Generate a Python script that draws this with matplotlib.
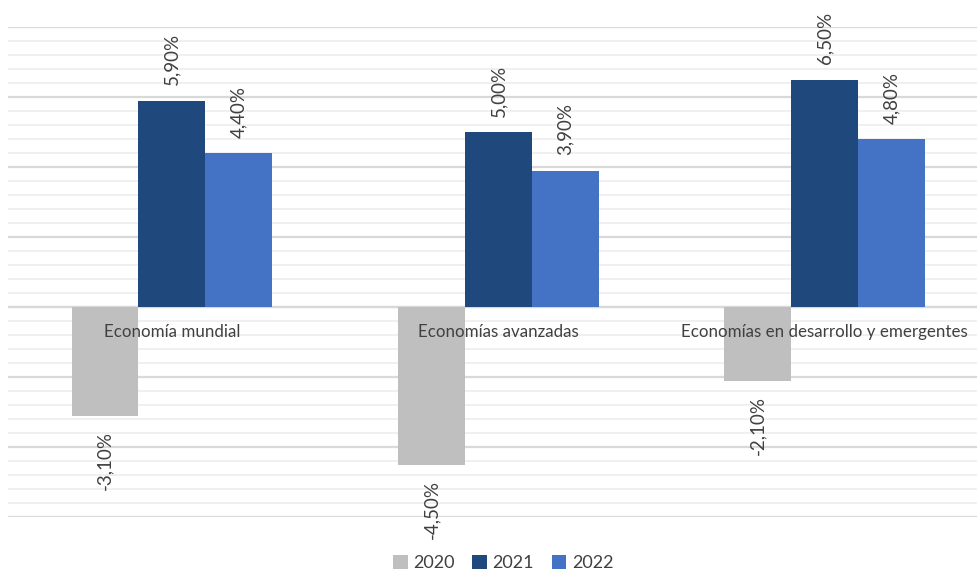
import numpy as np
import matplotlib.pyplot as plt
from matplotlib.patches import Patch
from matplotlib.ticker import MultipleLocator

plt.rcParams['font.family'] = ['Lato', 'DejaVu Sans']

categories = ["Economía mundial", "Economías avanzadas", "Economías en desarrollo y emergentes"]
years = ["2020", "2021", "2022"]
values = {
    "2020": [-3.1, -4.5, -2.1],
    "2021": [5.9, 5.0, 6.5],
    "2022": [4.4, 3.9, 4.8],
}
colors = {"2020": "#BFBFBF", "2021": "#1F497D", "2022": "#4472C4"}
text_color = "#404040"


def fmt(v):
    return f"{v:.2f}%".replace(".", ",")


fig = plt.figure(figsize=(9.77, 5.75), dpi=100)
ax = fig.add_axes([8 / 977, 1 - 517 / 575, 1 - 8 / 977, (517 - 27) / 575])

x = np.arange(len(categories))
width = 0.205
for i, yr in enumerate(years):
    xs = x + (i - 1) * width
    ax.bar(xs, values[yr], width=width, color=colors[yr], zorder=2)
    for xi, v in zip(xs, values[yr]):
        off = 11 if v > 0 else -11
        ax.annotate(fmt(v), (xi, v), xytext=(0, off), textcoords="offset points",
                    rotation=90, ha="center", va="bottom" if v > 0 else "top",
                    fontsize=13.5, color=text_color, zorder=4)

# category labels just under the zero line
for xi, cat in zip(x, categories):
    ax.annotate(cat, (xi, 0), xytext=(0, -18), textcoords="offset points",
                ha="center", va="center", fontsize=12.2, color=text_color, zorder=4)

ax.set_xlim(-0.502, 2.466)
ax.set_ylim(-6, 8)
ax.yaxis.set_major_locator(MultipleLocator(2))
ax.yaxis.set_minor_locator(MultipleLocator(0.4))
ax.grid(True, which="major", axis="y", color="#D9D9D9", lw=1.6, zorder=0)
ax.grid(True, which="minor", axis="y", color="#EEEEEE", lw=1.2, zorder=0)
ax.axhline(0, color="#D9D9D9", lw=1.6, zorder=1)
ax.tick_params(axis="both", which="both", length=0, labelleft=False, labelbottom=False)
for s in ax.spines.values():
    s.set_visible(False)

handles = [Patch(facecolor=colors[yr], label=yr) for yr in years]
fig.legend(handles=handles, loc="lower center", bbox_to_anchor=(0.515, -0.022), ncol=3,
           frameon=False, fontsize=13, handlelength=0.8, handleheight=0.8,
           handletextpad=0.3, columnspacing=1.0, labelcolor=text_color)

fig.savefig("out.png", dpi=100)
